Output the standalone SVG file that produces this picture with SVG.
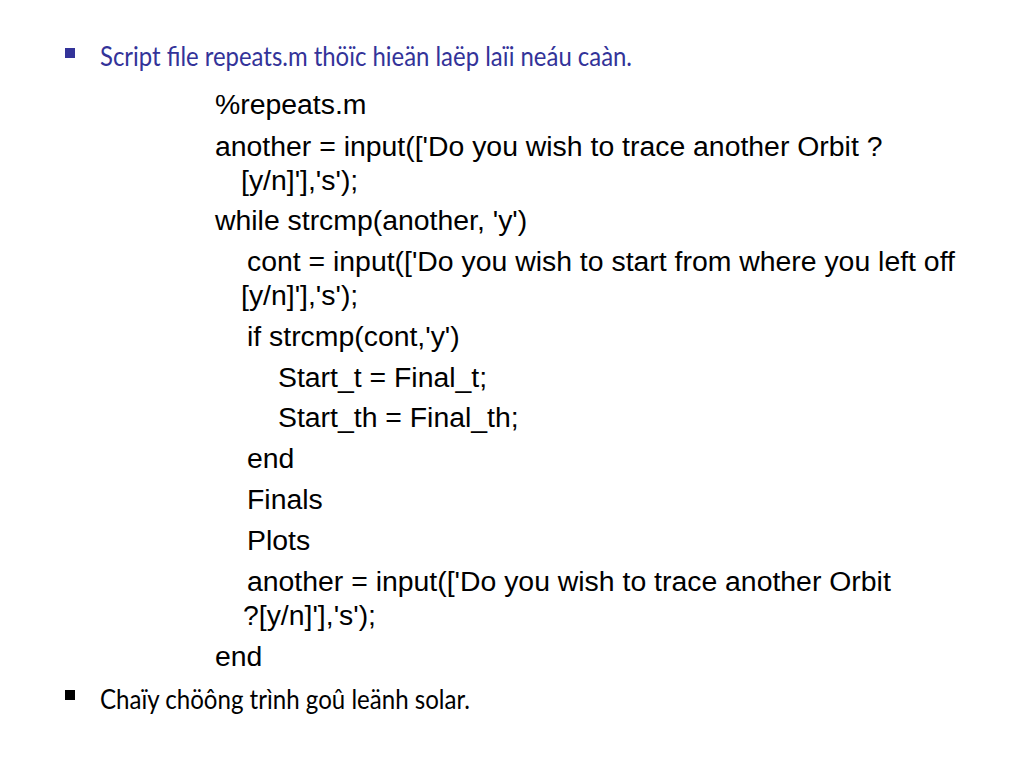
<svg xmlns="http://www.w3.org/2000/svg" width="1024" height="768" viewBox="0 0 1024 768">
<style>
.code{font-family:"Liberation Sans",Arial,sans-serif;font-size:28.4px;fill:#000}
.bul{font-family:Lato,"Noto Sans",sans-serif;font-size:26px}
</style>
<rect width="1024" height="768" fill="#fff"/>
<g id="bullet1">
<rect x="65" y="48" width="10" height="10" fill="#333399"/>
<text class="bul" x="100" y="66" fill="#333399" textLength="532" lengthAdjust="spacingAndGlyphs">Script file repeats.m thöïc hieän laëp laïi neáu caàn.</text>
</g>
<g id="code">
<text class="code" x="215" y="114">%repeats.m</text>
<text class="code" x="215" y="156">another = input(['Do you wish to trace another Orbit ?</text>
<text class="code" x="241" y="190">[y/n]'],'s');</text>
<text class="code" x="215" y="230">while strcmp(another, 'y')</text>
<text class="code" x="247" y="271">cont = input(['Do you wish to start from where you left off</text>
<text class="code" x="241" y="305">[y/n]'],'s');</text>
<text class="code" x="247" y="346">if strcmp(cont,'y')</text>
<text class="code" x="278" y="387">Start_t = Final_t;</text>
<text class="code" x="278" y="427">Start_th = Final_th;</text>
<text class="code" x="247" y="468">end</text>
<text class="code" x="247" y="509">Finals</text>
<text class="code" x="247" y="550">Plots</text>
<text class="code" x="247" y="591">another = input(['Do you wish to trace another Orbit</text>
<text class="code" x="243" y="625">?[y/n]'],'s');</text>
<text class="code" x="215" y="666">end</text>
</g>
<g id="bullet2">
<rect x="65" y="690" width="10" height="10" fill="#000"/>
<text class="bul" x="100" y="709" fill="#000" textLength="370" lengthAdjust="spacingAndGlyphs">Chaïy chöông trình goû leänh solar.</text>
</g>
</svg>
